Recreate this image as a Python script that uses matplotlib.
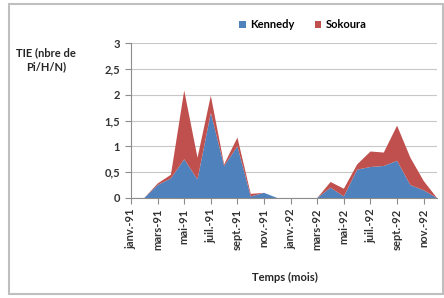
import numpy as np
import matplotlib
matplotlib.use("Agg")
import matplotlib.pyplot as plt
from matplotlib.patches import Rectangle

plt.rcParams['font.family'] = ['Lato', 'DejaVu Sans']

# monthly values, janv.-91 .. déc.-92
kennedy = [0, 0, 0.25, 0.38, 0.75, 0.36, 1.65, 0.62, 1.0, 0.03, 0.1, 0,
           0, 0, 0, 0.2, 0.03, 0.55, 0.6, 0.62, 0.72, 0.25, 0.15, 0]
sokoura = [0, 0, 0.03, 0.07, 1.33, 0.42, 0.33, 0.03, 0.17, 0.05, 0, 0,
           0, 0, 0, 0.11, 0.15, 0.10, 0.30, 0.26, 0.68, 0.53, 0.18, 0]
tick_labels = ["janv.-91", "mars-91", "mai-91", "juil.-91", "sept.-91", "nov.-91",
               "janv.-92", "mars-92", "mai-92", "juil.-92", "sept.-92", "nov.-92"]
series_names = ["Kennedy", "Sokoura"]
colors = ["#4F81BD", "#C0504D"]

x = np.arange(len(kennedy))

fig = plt.figure(figsize=(4.44, 2.98), dpi=100)
fig.patches.append(Rectangle((9 / 444, 1 - 294 / 298), 434 / 444, 290 / 298,
                             transform=fig.transFigure, fill=False,
                             edgecolor="#bfbfbf", lw=1.5))

ax = fig.add_axes([131 / 444, 1 - 198 / 298, 306 / 444, 155 / 298])
ax.stackplot(x, kennedy, sokoura, colors=colors, labels=series_names)

ax.set_xlim(0, 23)
ax.set_ylim(0, 3)
ax.set_yticks(np.arange(0, 3.01, 0.5))
ax.set_yticklabels(["0", "0,5", "1", "1,5", "2", "2,5", "3"], fontweight="bold")
ax.set_xticks(x[::2])
ax.set_xticklabels(tick_labels, rotation=90, fontweight="bold")
ax.tick_params(axis="both", labelsize=8, colors="#8c8c8c", labelcolor="#333333",
               length=4, width=0.8)
ax.tick_params(axis="y", pad=4)
ax.yaxis.grid(True, color="#c8c8c8", lw=0.8)
ax.set_axisbelow(True)
for s in ["top", "right"]:
    ax.spines[s].set_visible(False)
for s in ["left", "bottom"]:
    ax.spines[s].set_color("#8c8c8c")
    ax.spines[s].set_linewidth(0.8)

fig.text(46 / 444, 1 - 60 / 298, "TIE (nbre de\nPi/H/N)", ha="center", va="center",
         fontsize=8, fontweight="bold", color="#262626", linespacing=1.3)
fig.text(285 / 444, 1 - 277 / 298, "Temps (mois)", ha="center", va="center",
         fontsize=8, fontweight="bold", color="#262626")

fig.legend(loc="center", bbox_to_anchor=(303 / 444, 1 - 25 / 298), ncol=2,
           frameon=False, handlelength=0.6, handleheight=0.6,
           columnspacing=1.8, handletextpad=0.4, prop={"weight": "bold", "size": 8})

fig.savefig("out.png", dpi=100)
